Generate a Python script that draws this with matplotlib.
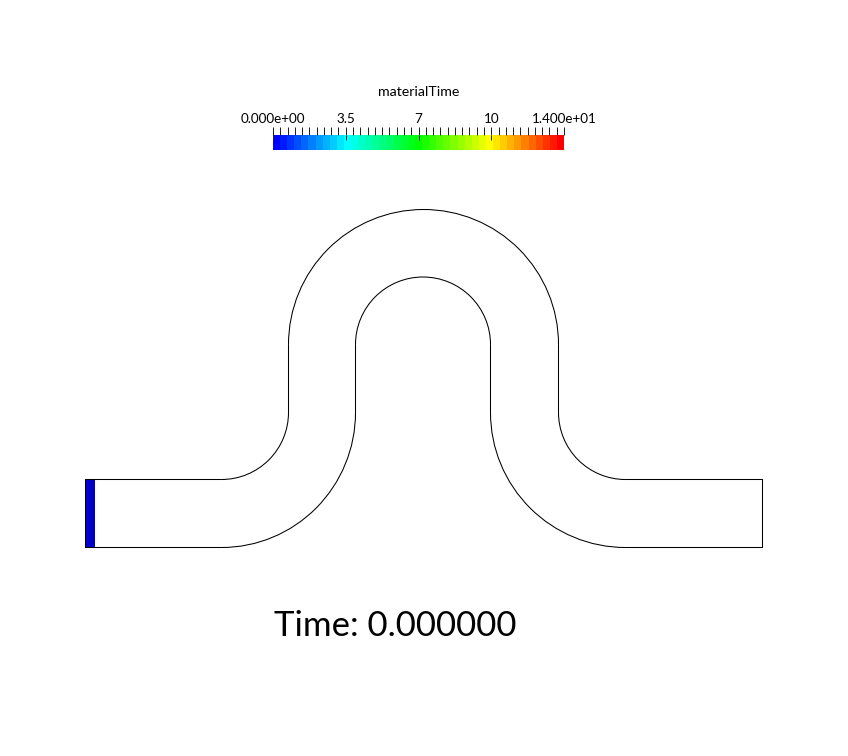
#!/usr/bin/env python
# -*- coding: utf-8 -*-

import matplotlib
matplotlib.use('Agg')
import matplotlib.pyplot as plt
import numpy as np
from matplotlib.colors import LinearSegmentedColormap
from matplotlib.patches import Arc, Rectangle

# Colour bar values
bar_title = 'materialTime'
bar_min = 0.0
bar_max = 14.0
major_ticks = [0.0, 3.5, 7.0, 10.5, 14.0]
major_labels = ['0.000e+00', '3.5', '7', '10', '1.400e+01']
minor_tick_count = 41
bar_levels = 41
bar_colors = ['#0000ff', '#00ffff', '#00ff00', '#ffff00', '#ff0000']

# Channel outline in pixel coordinates
line_x0 = [86, 86, 289, 356, 491, 559, 626, 626, 763, 86]
line_y0 = [479, 547, 344, 344, 344, 344, 479, 547, 479, 479]
line_x1 = [222, 222, 289, 356, 491, 559, 763, 763, 763, 86]
line_y1 = [479, 547, 412, 412, 412, 412, 479, 547, 547, 547]

# Channel bends: centre, width, height, start and end angle
arc_x = [222, 222, 424, 423.5, 626, 626]
arc_y = [412, 412, 344, 344, 412, 412]
arc_w = [134, 268, 270, 135, 134, 270]
arc_h = [134, 270, 270, 135, 134, 270]
arc_a0 = [0, 0, 180, 180, 90, 90]
arc_a1 = [90, 90, 360, 360, 180, 180]

# Filled material strip at the inlet
strip_x = [86, 95.5]
strip_y = [479, 547]
strip_color = '#0000c8'

time_label = 'Time: 0.000000'


def draw_channel(ax):
    # Material strip
    ax.add_patch(Rectangle((strip_x[0], strip_y[0]), strip_x[1] - strip_x[0],
                           strip_y[1] - strip_y[0], facecolor=strip_color,
                           edgecolor='none', antialiased=False))

    # Straight parts, not snapped so they meet the bends
    for x0, y0, x1, y1 in zip(line_x0, line_y0, line_x1, line_y1):
        ax.plot([x0, x1], [y0, y1], color='black', lw=0.75, snap=False,
                solid_capstyle='round')

    # Bends
    for x, y, w, h, a0, a1 in zip(arc_x, arc_y, arc_w, arc_h, arc_a0, arc_a1):
        ax.add_patch(Arc((x, y), w, h, theta1=a0, theta2=a1,
                         color='black', lw=0.75))


def draw_colorbar(fig):
    cax = fig.add_axes([273 / 848, 1 - 150 / 756, 291 / 848, 15 / 756])
    cmap = LinearSegmentedColormap.from_list('rainbow_bar', bar_colors,
                                             N=bar_levels)
    edges = np.linspace(bar_min, bar_max, bar_levels + 1)
    cax.pcolormesh(edges, [0, 1], [np.arange(bar_levels)], cmap=cmap)
    cax.set_xlim(bar_min, bar_max)
    cax.set_ylim(0, 1)

    for side in cax.spines.values():
        side.set_visible(False)
    cax.set_yticks([])

    cax.xaxis.tick_top()
    cax.set_xticks(major_ticks)
    cax.set_xticklabels(major_labels, fontsize=9.7, family='Lato')
    cax.set_xticks(np.linspace(bar_min, bar_max, minor_tick_count), minor=True)
    cax.tick_params(axis='x', which='both', length=5.8, width=0.72, pad=1.5,
                    color='#222222')

    # Major ticks run a little way into the bar
    cax.vlines(major_ticks, 0.65, 1, color='#222222', lw=0.72)

    fig.text(419 / 848, 1 - 92 / 756, bar_title, fontsize=10.2, family='Lato',
             ha='center', va='center')


def main():
    fig = plt.figure(figsize=(8.48, 7.56), dpi=100)
    ax = fig.add_axes([0, 0, 1, 1])
    # Half pixel offset puts the lines on the reference's pixel rows
    ax.set_xlim(0.5, 848.5)
    ax.set_ylim(755.5, -0.5)
    ax.axis('off')

    draw_channel(ax)
    draw_colorbar(fig)

    ax.text(395.5, 636, time_label, fontsize=25, family='Lato',
            ha='center', va='baseline')

    plt.savefig('out.png', dpi=100)


if __name__ == "__main__":
    main()
